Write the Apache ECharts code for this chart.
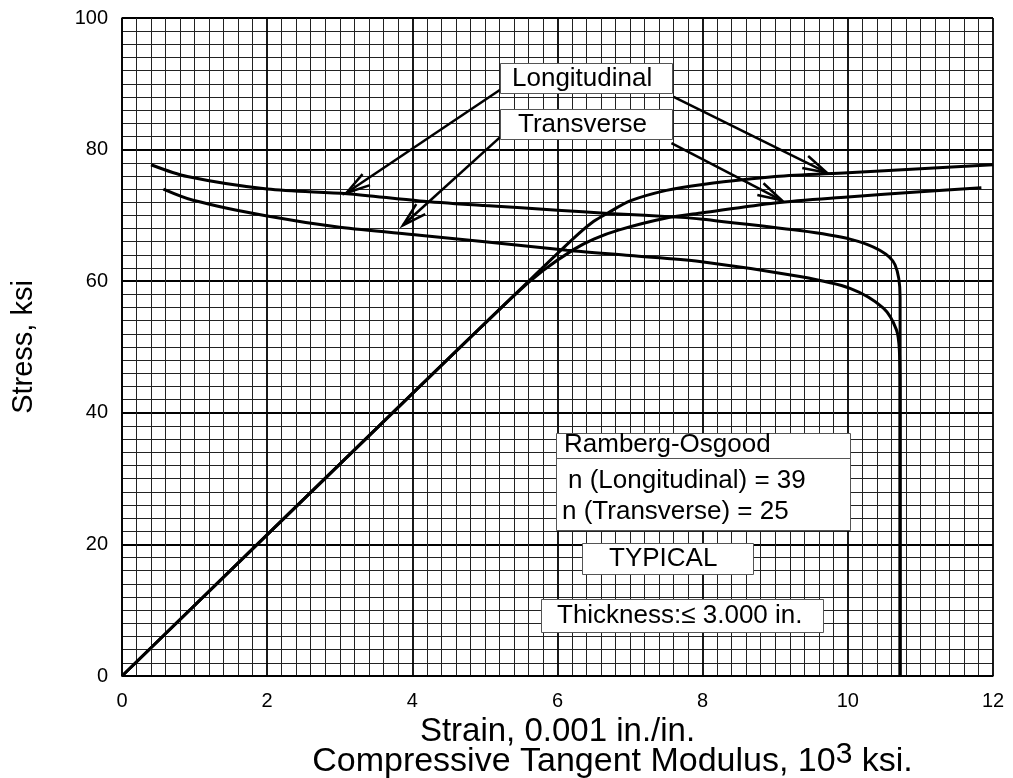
<!DOCTYPE html>
<html>
<head>
<meta charset="utf-8">
<script src="https://cdn.jsdelivr.net/npm/echarts@6/dist/echarts.min.js"></script>
<style>
html, body { margin: 0; padding: 0; background: #fff; }
#main { width: 1013px; height: 778px; }
</style>
</head>
<body>
<div id="main"></div>
<script>
// stress-strain curves: strain (0.001 in./in.) vs stress (ksi)
var ssLongX = [0, 3.55, 5.8, 6.3, 6.5, 6.7, 7.0, 7.5, 8.0, 9.0, 10.0, 11.0, 12.0];
var ssLongY = [0, 38.1, 62.1, 67.3, 69.1, 70.4, 72.2, 73.8, 74.7, 75.9, 76.5, 77.1, 77.7];
var ssTranX = [0, 3.55, 5.4, 5.8, 6.22, 6.5, 6.85, 7.5, 8.0, 9.0, 10.0, 11.0, 11.84];
var ssTranY = [0, 38.1, 57.8, 61.6, 64.8, 66.4, 67.8, 69.6, 70.4, 71.9, 72.8, 73.6, 74.2];

// tangent modulus curves: modulus (10^3 ksi) vs stress (ksi)
var tmLongX = [0.4, 0.9, 2.0, 3.1, 4.1, 5.0, 6.0, 6.7, 7.7, 8.0, 9.34, 10.03, 10.44, 10.65, 10.72, 10.72];
var tmLongY = [77.7, 75.9, 74.0, 73.3, 72.2, 71.5, 70.8, 70.3, 69.7, 69.4, 67.7, 66.4, 64.7, 62.5, 57.6, 0];
var tmTranX = [0.57, 0.98, 2.0, 3.0, 4.1, 5.0, 6.13, 7.0, 7.96, 9.34, 10.03, 10.49, 10.67, 10.71, 10.72, 10.72];
var tmTranY = [74.0, 72.3, 69.9, 68.2, 67.0, 66.0, 64.7, 63.9, 63.0, 60.7, 58.9, 55.9, 52.6, 49.5, 42.0, 0];

// label arrows, tail -> head, in data units
var arrowTail = [[5.21, 89.1], [7.60, 88.0], [5.21, 81.9], [7.57, 81.0]];
var arrowHead = [[3.09, 73.4], [9.71, 76.5], [3.87, 68.5], [9.09, 72.3]];

var xTicks = [0, 2, 4, 6, 8, 10, 12];
var yTicks = [0, 20, 40, 60, 80, 100];

function zip(xs, ys) {
    return xs.map(function (x, i) { return [x, ys[i]]; });
}

var arrowData = arrowTail.map(function (t, i) {
    return [t[0], t[1], arrowHead[i][0], arrowHead[i][1]];
});

function renderArrow(params, api) {
    var p0 = api.coord([api.value(0), api.value(1)]);
    var p1 = api.coord([api.value(2), api.value(3)]);
    var ang = Math.atan2(p0[1] - p1[1], p0[0] - p1[0]);
    var len = 25, spread = 0.27;
    var w1 = [p1[0] + len * Math.cos(ang + spread), p1[1] + len * Math.sin(ang + spread)];
    var w2 = [p1[0] + len * Math.cos(ang - spread), p1[1] + len * Math.sin(ang - spread)];
    return {
        type: 'group',
        children: [
            { type: 'line', shape: { x1: p0[0], y1: p0[1], x2: p1[0], y2: p1[1] },
              style: { stroke: '#000', lineWidth: 2.5 } },
            { type: 'polyline', shape: { points: [w1, p1, w2] },
              style: { stroke: '#000', lineWidth: 2.5, fill: null } }
        ]
    };
}

var FONT = 'Liberation Sans';

function rect(x, y, w, h) {
    return {
        type: 'rect', z: 100,
        shape: { x: x + 0.5, y: y + 0.5, width: w, height: h },
        style: { fill: '#fff', stroke: '#555', lineWidth: 1 }
    };
}

// stroke must be switched off or the graphic text gets a grey outline
function line(x, y, text) {
    return {
        type: 'text', x: x, y: y, z: 101,
        style: { text: text, fontSize: 26, fontFamily: FONT, fill: '#000',
                 stroke: 'none', lineWidth: 0, align: 'left', verticalAlign: 'middle' }
    };
}

var chart = echarts.init(document.getElementById('main'));

var curveStyle = { color: '#000', width: 3 };

chart.setOption({
    animation: false,
    backgroundColor: '#fff',
    grid: { left: 122, right: 20, top: 18, bottom: 102, outerBoundsMode: 'none', containLabel: false },
    xAxis: {
        type: 'value', min: xTicks[0], max: xTicks[xTicks.length - 1], interval: 2,
        axisLine: { lineStyle: { color: '#000', width: 1.5 } },
        axisTick: { show: false },
        minorTick: { show: false, splitNumber: 10 },
        axisLabel: { color: '#000', fontSize: 20, fontFamily: FONT, margin: 15 },
        splitLine: { show: true, lineStyle: { color: '#000', width: 1.8 } },
        minorSplitLine: { show: true, lineStyle: { color: '#222', width: 1 } },
        name: '{a|Strain, 0.001 in./in.}\n{gap|}{b|Compressive Tangent Modulus, 10}{sup|3}{b| ksi.}',
        nameLocation: 'middle',
        nameGap: 41,
        nameTextStyle: {
            rich: {
                a: { fontSize: 33, fontFamily: FONT, color: '#000', lineHeight: 29 },
                b: { fontSize: 34, fontFamily: FONT, color: '#000', lineHeight: 29 },
                sup: { fontSize: 30, fontFamily: FONT, color: '#000', lineHeight: 29, padding: [0, 0, 14, 0] },
                gap: { width: 110 }
            }
        }
    },
    yAxis: {
        type: 'value', min: yTicks[0], max: yTicks[yTicks.length - 1], interval: 20,
        axisLine: { lineStyle: { color: '#000', width: 1.5 } },
        axisTick: { show: false },
        minorTick: { show: false, splitNumber: 10 },
        axisLabel: { color: '#000', fontSize: 20, fontFamily: FONT, margin: 14 },
        splitLine: { show: true, lineStyle: { color: '#000', width: 1.8 } },
        minorSplitLine: { show: true, lineStyle: { color: '#222', width: 1 } },
        name: 'Stress, ksi',
        nameLocation: 'middle',
        nameGap: 84,
        nameTextStyle: { fontSize: 29, fontFamily: FONT, color: '#000' }
    },
    series: [
        { name: 'SS Longitudinal', type: 'line', data: zip(ssLongX, ssLongY), symbol: 'none',
          smooth: 0.3, lineStyle: curveStyle, z: 5 },
        { name: 'SS Transverse', type: 'line', data: zip(ssTranX, ssTranY), symbol: 'none',
          smooth: 0.3, lineStyle: curveStyle, z: 5 },
        { name: 'TM Longitudinal', type: 'line', data: zip(tmLongX, tmLongY), symbol: 'none',
          smooth: 0.3, lineStyle: curveStyle, z: 5 },
        { name: 'TM Transverse', type: 'line', data: zip(tmTranX, tmTranY), symbol: 'none',
          smooth: 0.3, lineStyle: curveStyle, z: 5 },
        { name: 'arrows', type: 'custom', renderItem: renderArrow, data: arrowData,
          encode: { x: [0, 2], y: [1, 3] }, clip: false, z: 6 }
    ],
    graphic: [
        rect(500, 63, 172, 30),
        line(512, 79, 'Longitudinal'),
        rect(500, 109, 172, 30),
        line(518, 125, 'Transverse'),
        rect(556, 433, 294, 97),
        { type: 'line', z: 100, shape: { x1: 556.5, y1: 458.5, x2: 850.5, y2: 458.5 },
          style: { stroke: '#555', lineWidth: 1 } },
        line(564, 445, 'Ramberg-Osgood'),
        line(568, 481, 'n (Longitudinal) = 39'),
        line(562, 512, 'n (Transverse) = 25'),
        rect(582, 543, 171, 31),
        line(609, 559, 'TYPICAL'),
        rect(541, 599, 282, 33),
        line(557, 616, 'Thickness:\u2264 3.000 in.')
    ]
});
</script>
</body>
</html>
